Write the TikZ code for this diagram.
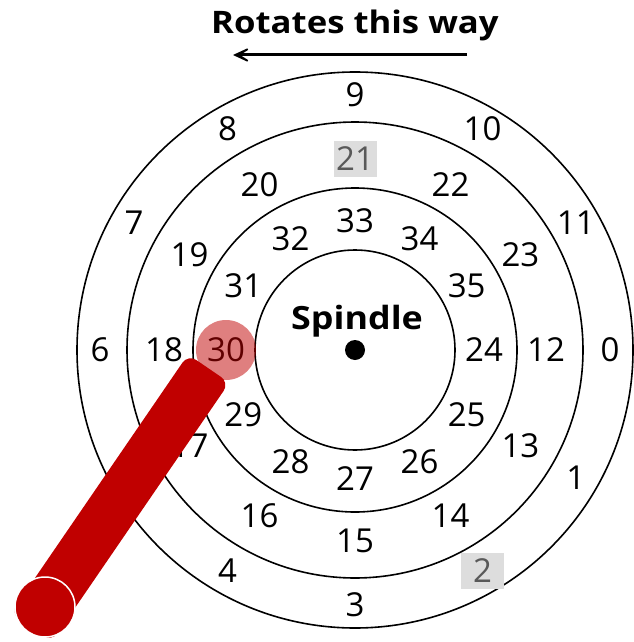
\documentclass[tikz,border=0pt]{standalone}
\usepackage{fontspec}
\setmainfont{Open Sans}
\newfontfamily\widefont[FakeStretch=1.12]{Open Sans}
\usetikzlibrary{arrows.meta,calc}
\definecolor{armred}{HTML}{C00000}
\definecolor{boxgray}{HTML}{DDDDDD}
\definecolor{textgray}{HTML}{595959}

\begin{document}
\begin{tikzpicture}[
    x=1pt, y=-1pt,
    ring/.style={draw, line width=1.6pt},
    num_label/.style={font=\fontsize{33}{39}\selectfont, inner sep=0pt},
    gray_label/.style={num_label, fill=boxgray, text=textgray, minimum width=43pt, minimum height=36pt},
    bold_text/.style={font=\widefont\fontsize{31}{36}\selectfont\bfseries, inner sep=0pt}
]
\useasboundingbox (0,0) rectangle (633,642);
\coordinate (spindle) at (355,350);

\node[bold_text] (title) at (355,25) {Rotates this way};
\coordinate (arrow_from) at (467,55);
\coordinate (arrow_to) at (233,55);
\draw[line width=3pt, -{Stealth[length=27pt, width=25pt, inset=20pt]}] (arrow_from) -- (arrow_to);

\foreach \r in {278,228,162,100}
    \draw[ring] (spindle) circle (\r pt);

\foreach \k in {0,...,11} {
    \pgfmathtruncatemacro\mid{\k+12}
    \pgfmathtruncatemacro\inn{\k+24}
    \node[num_label] (outer\k) at ($(spindle)+(-30*\k:255pt)$) {\k};
    \node[num_label] (middle\k) at ($(spindle)+(-30*\k:191pt)$) {\mid};
    \node[num_label] (inner\k) at ($(spindle)+(-30*\k:129pt)$) {\inn};
}
\node[gray_label] at (outer2) {2};
\node[gray_label] at (middle9) {21};

\fill[armred, opacity=0.5] (inner6) circle (30pt);

\fill (spindle) circle (10pt);
\node[bold_text, font=\widefont\fontsize{32}{38}\selectfont\bfseries] (spindle_label) at (357,321) {Spindle};

\coordinate (arm_top_r) at (229.3,382.6);
\coordinate (arm_top_l) at (188.1,354.4);
\coordinate (arm_end_r) at (51.9,641.6);
\coordinate (arm_end_l) at (10.7,613.4);
\fill[armred, rounded corners=10pt] (arm_top_l) -- (arm_top_r) -- (arm_end_r) -- (arm_end_l) -- cycle;
\filldraw[fill=armred, draw=white, line width=1.5pt] (45,607) circle (30pt);
\end{tikzpicture}
\end{document}
